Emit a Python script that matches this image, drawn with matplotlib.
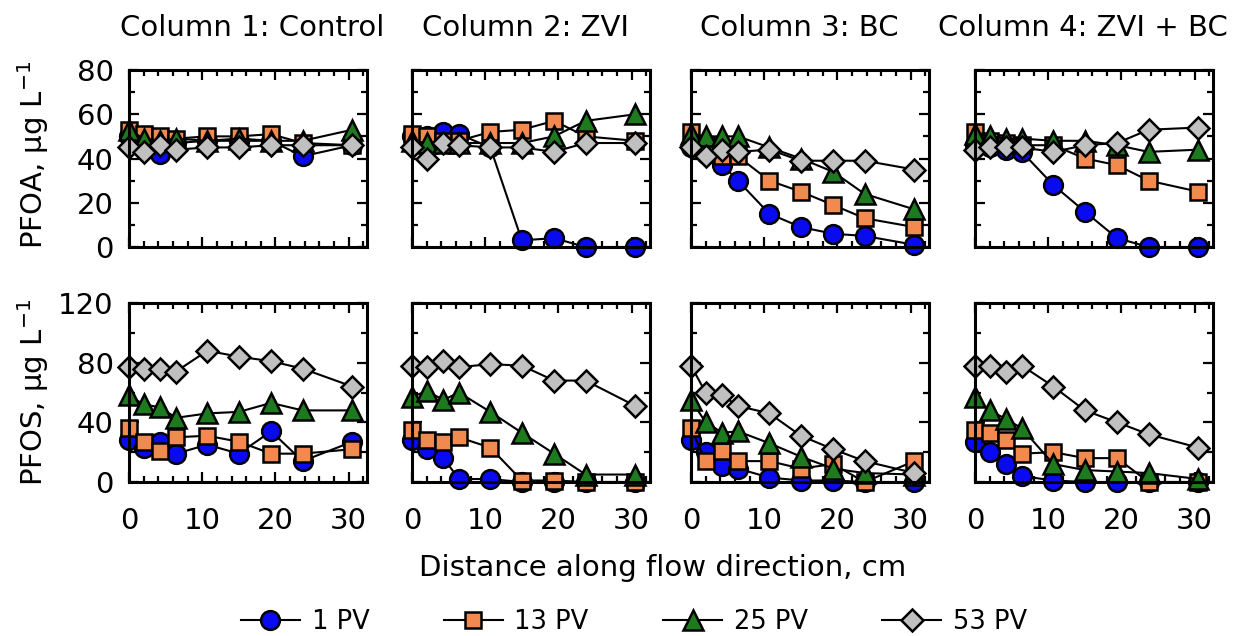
import matplotlib
matplotlib.use("Agg")
import matplotlib.pyplot as plt
from matplotlib.ticker import MultipleLocator

# distance of sampling ports, cm
distance = [0, 2, 4.3, 6.4, 10.7, 15, 19.4, 23.7, 30.5]
columns = ["Column 1: Control", "Column 2: ZVI", "Column 3: BC", "Column 4: ZVI + BC"]
pv_labels = ["1 PV", "13 PV", "25 PV", "53 PV"]

# PFOA, ug/L  (rows: 1, 13, 25, 53 PV)
pfoa_control = [[50, 47, 42, 47, 48, 48, 48, 41, 46],
                [53, 51, 50, 49, 50, 50, 51, 47, 46],
                [53, 49, 48, 49, 48, 49, 48, 48, 53],
                [45, 43, 46, 44, 45, 45, 46, 46, 46]]
pfoa_zvi = [[50, 50, 52, 51, 45, 3, 4, 0, 0],
            [51, 50, 48, 48, 52, 53, 57, 50, 48],
            [48, 47, 47, 47, 47, 47, 50, 57, 60],
            [45, 40, 47, 46, 45, 45, 43, 47, 47]]
pfoa_bc = [[45, 42, 37, 30, 15, 9, 6, 5, 1],
           [52, 46, 41, 41, 30, 25, 19, 13, 9],
           [51, 50, 50, 50, 45, 40, 34, 24, 17],
           [45, 41, 44, 43, 44, 39, 39, 39, 35]]
pfoa_zvi_bc = [[46, 45, 44, 43, 28, 16, 4, 0, 0],
               [52, 48, 47, 46, 46, 40, 37, 30, 25],
               [51, 50, 49, 49, 48, 48, 46, 43, 44],
               [44, 45, 45, 45, 43, 46, 47, 53, 54]]

# PFOS, ug/L
pfos_control = [[28, 23, 27, 19, 25, 19, 34, 14, 27],
                [36, 27, 21, 30, 31, 27, 19, 19, 22],
                [58, 52, 50, 43, 46, 47, 53, 48, 48],
                [77, 76, 76, 74, 88, 84, 81, 76, 64]]
pfos_zvi = [[28, 22, 16, 2, 2, 0, 0, 0, 0],
            [35, 28, 27, 30, 23, 1, 1, 0, 0],
            [57, 61, 55, 60, 47, 33, 19, 5, 5],
            [78, 77, 81, 77, 79, 78, 68, 68, 51]]
pfos_bc = [[28, 20, 11, 9, 3, 1, 1, 0, 0],
           [36, 14, 21, 14, 14, 9, 12, 0, 14],
           [55, 40, 33, 34, 26, 17, 9, 6, 5],
           [78, 60, 58, 51, 46, 31, 22, 14, 6]]
pfos_zvi_bc = [[27, 20, 12, 4, 1, 0, 0, 0, 0],
               [35, 33, 28, 19, 20, 16, 16, 0, 0],
               [57, 48, 42, 36, 12, 8, 7, 6, 2],
               [78, 78, 74, 78, 64, 48, 40, 32, 23]]

pfoa = [pfoa_control, pfoa_zvi, pfoa_bc, pfoa_zvi_bc]
pfos = [pfos_control, pfos_zvi, pfos_bc, pfos_zvi_bc]

colors = ["#0a0af0", "#f28a50", "#1e7a1e", "#c0c0c0"]
markers = ["o", "s", "^", "D"]
msizes = [13.5, 12, 14, 11]

plt.rcParams["font.family"] = "DejaVu Sans"

W, H = 1234, 636
fig = plt.figure(figsize=(W / 100, H / 100), dpi=100)

lefts = [129, 412, 691, 975]
panel_w = 238
rows = [(70, 247), (303, 482)]


def draw(ax, series, first_col, bottom_row, ymax, ymaj):
    for i in range(4):
        ax.plot(distance, series[i], color="black", lw=1.5,
                marker=markers[i], ms=msizes[i], mfc=colors[i], mec="black",
                mew=1.8, clip_on=False, label=pv_labels[i])
    ax.set_xlim(0, 32.5)
    ax.set_ylim(0, ymax)
    ax.xaxis.set_major_locator(MultipleLocator(10))
    ax.xaxis.set_minor_locator(MultipleLocator(2))
    ax.yaxis.set_major_locator(MultipleLocator(ymaj))
    ax.yaxis.set_minor_locator(MultipleLocator(ymaj / 2))
    ax.tick_params(which="both", direction="in", top=True, right=True, width=1.6)
    ax.tick_params(which="major", length=7)
    ax.tick_params(which="minor", length=4)
    ax.tick_params(axis="y", labelsize=21, pad=11, labelleft=first_col)
    ax.tick_params(axis="x", labelsize=21, pad=18, labelbottom=bottom_row)
    for s in ax.spines.values():
        s.set_linewidth(2.2)


axes_top = []
for c in range(4):
    for r, (top, bot) in enumerate(rows):
        ax = fig.add_axes([lefts[c] / W, 1 - bot / H, panel_w / W, (bot - top) / H])
        if r == 0:
            draw(ax, pfoa[c], c == 0, False, 80, 20)
            axes_top.append(ax)
        else:
            draw(ax, pfos[c], c == 0, True, 120, 40)

title_x = [252, 526, 799, 1083]
for c in range(4):
    fig.text(title_x[c] / W, 1 - 28 / H, columns[c], fontsize=21, ha="center", va="center")

fig.text(33 / W, 1 - 155 / H, "PFOA, \u00b5g L$^{-1}$", fontsize=21,
         rotation=90, ha="center", va="center")
fig.text(33 / W, 1 - 392 / H, "PFOS, \u00b5g L$^{-1}$", fontsize=21,
         rotation=90, ha="center", va="center")
fig.text(663 / W, 1 - 568 / H, "Distance along flow direction, cm", fontsize=21,
         ha="center", va="center")

handles, labels = axes_top[0].get_legend_handles_labels()
fig.legend(handles, labels, loc="center", bbox_to_anchor=(634 / W, 1 - 622 / H),
           ncol=4, frameon=False, fontsize=18.5, handlelength=2.3,
           handletextpad=0.45, columnspacing=2.9, markerscale=1.0)

fig.savefig("out.png", dpi=100)
